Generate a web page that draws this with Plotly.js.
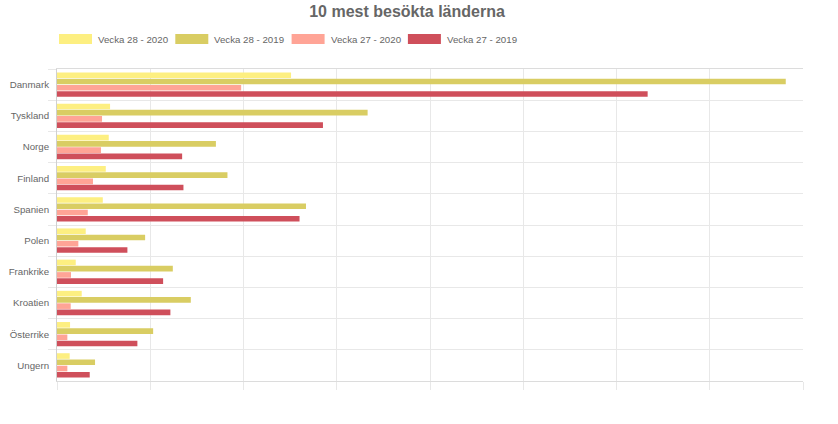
<!DOCTYPE html>
<html>
<head>
<meta charset="utf-8">
<script src="https://cdn.plot.ly/plotly-3.0.1.min.js"></script>
<style>
  html, body { margin: 0; padding: 0; background: #fff; }
  #chart { width: 838px; height: 424px; }
</style>
</head>
<body>
<div id="chart"></div>
<script>
/* 10 mest besökta länderna — grupperade liggande staplar */

var lander = ['Danmark', 'Tyskland', 'Norge', 'Finland', 'Spanien',
              'Polen', 'Frankrike', 'Kroatien', 'Österrike', 'Ungern'];

var serier = ['Vecka 28 - 2020', 'Vecka 28 - 2019', 'Vecka 27 - 2020', 'Vecka 27 - 2019'];
var farger = ['#fdef81', '#d9cd63', '#ffa496', '#cf4f5b'];

var v28_2020 = [2510, 569, 555, 523, 491, 308, 201, 265, 140, 136];
var v28_2019 = [7815, 3331, 1704, 1828, 2670, 945, 1242, 1435, 1031, 408];
var v27_2020 = [1975, 483, 472, 386, 330, 229, 150, 147, 111, 111];
var v27_2019 = [6334, 2852, 1342, 1356, 2601, 755, 1138, 1216, 862, 351];

var varden = [v28_2020, v28_2019, v27_2020, v27_2019];

var FONT = 'Liberation Sans, Arial, Helvetica, sans-serif';
var GRID = '#e8e8e8';

/* plotytan i pixlar (för egen legend ovanför) */
var W = 838, H = 424;
var M = { l: 57, r: 35, t: 69, b: 43 };
var plotW = W - M.l - M.r, plotH = H - M.t - M.b;
function px2x(px) { return (px - M.l) / plotW; }
function px2y(py) { return (H - M.b - py) / plotH; }

var data = serier.map(function (namn, i) {
  return {
    type: 'bar',
    orientation: 'h',
    name: namn,
    x: varden[i],
    y: lander,
    marker: { color: farger[i] },
    hovertemplate: '<b>%{y}</b><br>' + namn + ': %{x}<extra></extra>'
  };
});

/* legend i Chart.js-stil: breda rutor + text */
var shapes = [], annotations = [];
serier.forEach(function (namn, i) {
  var x0 = 59 + i * 116.3;
  shapes.push({
    type: 'rect', xref: 'paper', yref: 'paper',
    x0: px2x(x0), x1: px2x(x0 + 33),
    y0: px2y(44), y1: px2y(34),
    fillcolor: farger[i], line: { width: 0 }
  });
  annotations.push({
    xref: 'paper', yref: 'paper',
    x: px2x(x0 + 37), y: px2y(39.5),
    xanchor: 'left', yanchor: 'middle',
    text: namn, showarrow: false,
    font: { family: FONT, size: 9.7, color: '#666' }
  });
});

var layout = {
  width: W,
  height: H,
  paper_bgcolor: '#fff',
  plot_bgcolor: '#fff',
  font: { family: FONT, color: '#666', size: 9.7 },
  margin: M,
  title: {
    text: '<b>10 mest besökta länderna</b>',
    font: { family: FONT, size: 16, color: '#666' },
    xref: 'container', x: 407 / W, xanchor: 'center',
    yref: 'container', y: 1 - 11 / H, yanchor: 'middle'
  },
  showlegend: false,
  shapes: shapes,
  annotations: annotations,
  barmode: 'group',
  bargap: 0.2,
  bargroupgap: 0.1,
  xaxis: {
    range: [0, 8000],
    dtick: 1000,
    showticklabels: false,
    ticks: 'outside', ticklen: 8, tickcolor: GRID,
    showgrid: true, gridcolor: GRID,
    zeroline: false,
    showline: true, linecolor: '#dcdcdc', linewidth: 1, mirror: true,
    fixedrange: true
  },
  yaxis: {
    type: 'category',
    autorange: 'reversed',
    tickson: 'boundaries',
    ticks: 'outside', ticklen: 8, tickcolor: GRID,
    showgrid: true, gridcolor: GRID,
    showline: true, linecolor: '#d0d0d0', linewidth: 1,
    zeroline: false,
    ticklabelstandoff: 5,
    tickfont: { family: FONT, size: 9.7, color: '#666' },
    fixedrange: true
  }
};

Plotly.newPlot('chart', data, layout, { displayModeBar: false, staticPlot: true });
</script>
</body>
</html>
